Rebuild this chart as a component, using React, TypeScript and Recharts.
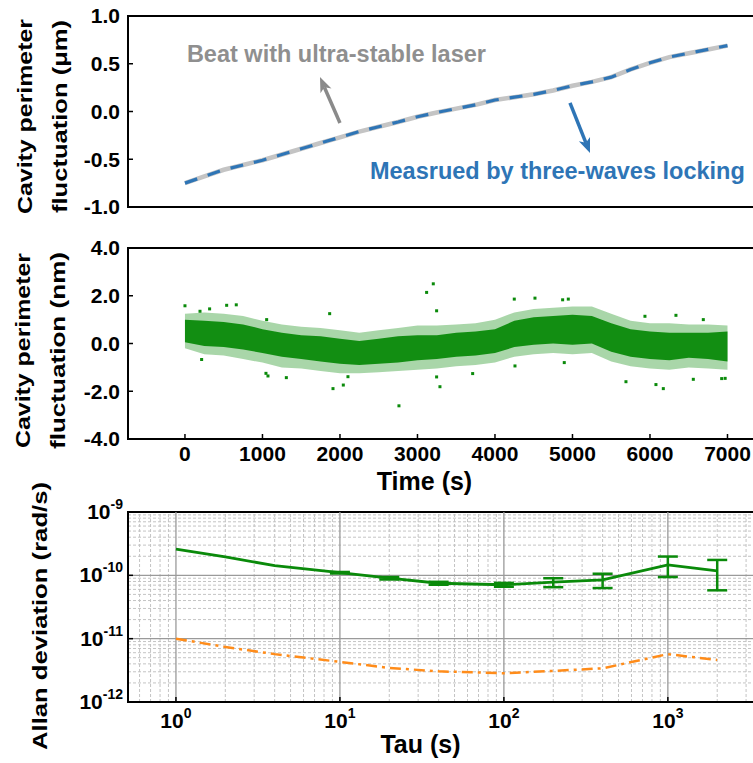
import React from 'react';
import {
  LineChart, ComposedChart, Line, Area, Scatter, XAxis, YAxis, Label,
  ReferenceArea, ReferenceLine, ReferenceDot, ErrorBar,
} from 'recharts';

const FONT = '"Liberation Sans", Arial, Helvetica, sans-serif';
const GREEN = '#0a8a0a';
const BLUE = '#2e75b6';
const GRAY_LINE = '#c4c4c4';
const GRAY_TEXT = '#8f8f8f';
const ORANGE = '#ff8c1a';

// ---------- Panel 1: cavity perimeter drift (µm) ----------
const driftTime = [0, 250, 500, 750, 1000, 1250, 1500, 1750, 2000, 2250, 2500, 2750, 3000, 3250, 3500, 3750, 4000, 4250, 4500, 4750, 5000, 5250, 5500, 5750, 6000, 6250, 6500, 6750, 7000];
const driftUm = [-0.75, -0.68, -0.61, -0.56, -0.51, -0.45, -0.39, -0.33, -0.27, -0.21, -0.16, -0.11, -0.055, -0.01, 0.03, 0.07, 0.12, 0.15, 0.18, 0.22, 0.27, 0.31, 0.36, 0.44, 0.51, 0.57, 0.61, 0.65, 0.69];
const timeTicks = [0, 1000, 2000, 3000, 4000, 5000, 6000, 7000];
const timeDomain = [-735, 7355];
const driftTicks = [-1, -0.5, 0, 0.5, 1];

// ---------- Panel 2: residual fluctuation (nm) ----------
const noiseTime = [0, 250, 500, 750, 1000, 1250, 1500, 1750, 2000, 2250, 2500, 2750, 3000, 3250, 3500, 3750, 4000, 4250, 4500, 4750, 5000, 5250, 5500, 5750, 6000, 6250, 6500, 6750, 7000];
const coreLow = [0.05, -0.1, -0.15, -0.25, -0.4, -0.55, -0.65, -0.75, -0.85, -0.9, -0.85, -0.8, -0.7, -0.65, -0.55, -0.5, -0.4, -0.15, -0.05, 0.0, -0.05, 0.0, -0.35, -0.55, -0.65, -0.7, -0.6, -0.65, -0.75];
const coreHigh = [1.0, 0.95, 0.9, 0.8, 0.6, 0.45, 0.35, 0.3, 0.2, 0.1, 0.2, 0.3, 0.35, 0.35, 0.45, 0.5, 0.6, 0.95, 1.1, 1.15, 1.2, 1.15, 0.85, 0.6, 0.5, 0.45, 0.45, 0.45, 0.5];
const outerLow = [-0.2, -0.45, -0.5, -0.65, -0.8, -1.0, -1.05, -1.15, -1.25, -1.25, -1.2, -1.15, -1.1, -1.05, -0.95, -0.9, -0.8, -0.55, -0.45, -0.4, -0.45, -0.4, -0.75, -0.95, -1.05, -1.1, -1.0, -1.05, -1.1];
const outerHigh = [1.25, 1.3, 1.25, 1.15, 0.95, 0.8, 0.7, 0.65, 0.55, 0.45, 0.55, 0.65, 0.75, 0.75, 0.8, 0.85, 1.0, 1.3, 1.45, 1.5, 1.55, 1.55, 1.25, 0.95, 0.85, 0.85, 0.8, 0.8, 0.75];
const outlierTime = [0, 194, 318, 538, 662, 215, 1045, 1054, 1071, 1308, 1867, 1910, 2043, 2103, 2761, 3118, 3204, 3247, 3290, 3247, 3712, 4249, 4258, 4516, 4873, 4946, 4894, 5690, 5935, 6077, 6172, 6335, 6559, 6688, 6925, 6970];
const outlierNm = [1.58, 1.35, 1.45, 1.6, 1.62, -0.67, -1.25, 1.0, -1.36, -1.43, 1.25, -1.89, -1.74, -1.39, -2.61, 2.14, 2.5, 1.37, -1.81, -1.4, -1.26, 1.86, -0.94, 1.9, 1.83, 1.86, -0.8, -1.6, 1.14, -1.72, -1.89, 1.18, -1.5, 1.0, -1.47, -1.46];
const noiseTicks = [-4, -2, 0, 2, 4];

// ---------- Panel 3: Allan deviation ----------
const tau = [1, 2, 4, 10, 20, 40, 100, 200, 400, 1000, 2000];
const adevMeasured = [2.6e-10, 1.95e-10, 1.42e-10, 1.1e-10, 9.0e-11, 7.5e-11, 7.1e-11, 7.8e-11, 8.5e-11, 1.46e-10, 1.18e-10];
const adevErrLow = [null, null, null, 3e-12, 4e-12, 4e-12, 5e-12, 1.3e-11, 2.2e-11, 5.2e-11, 6.0e-11];
const adevErrHigh = [null, null, null, 3e-12, 4e-12, 4e-12, 5e-12, 1.2e-11, 2.1e-11, 5.2e-11, 5.7e-11];
const adevFloor = [1.0e-11, 7.4e-12, 5.7e-12, 4.3e-12, 3.45e-12, 3.05e-12, 2.84e-12, 3.1e-12, 3.4e-12, 5.7e-12, 4.6e-12];
const tauTicks = [1, 10, 100, 1000];
const tauDomain = [0.51, 3400];
const adevTicks = [1e-12, 1e-11, 1e-10, 1e-9];

const minorTau: number[] = [];
[0.1, 1, 10, 100, 1000].forEach((d) => {
  for (let m = 2; m <= 9; m++) {
    const v = m * d;
    if (v > tauDomain[0] && v < tauDomain[1]) minorTau.push(v);
  }
});
const minorAdev: number[] = [];
[1e-12, 1e-11, 1e-10].forEach((d) => {
  for (let m = 2; m <= 9; m++) minorAdev.push(m * d);
});

const driftData = driftTime.map((t, i) => ({ t, um: driftUm[i] }));
const noiseData = noiseTime.map((t, i) => ({ t, core: [coreLow[i], coreHigh[i]], outer: [outerLow[i], outerHigh[i]] }));
const outlierData = outlierTime.map((t, i) => ({ t, v: outlierNm[i] }));
const allanData = tau.map((x, i) => ({
  tau: x,
  adev: adevMeasured[i],
  adevErr: adevErrLow[i] == null ? undefined : [adevErrLow[i], adevErrHigh[i]],
  floor: adevFloor[i],
}));

const tickFont = { fontSize: 21, fontWeight: 700, fill: '#000', fontFamily: FONT };
const axisLineStyle = { stroke: '#000', strokeWidth: 2 };
const tickLineStyle = { stroke: '#000', strokeWidth: 1.5 };

const YTitle = (lines: string[], bx: number[], dy: number, len: number[]) => (p: any) => {
  const vb = p.viewBox;
  const cy = vb.y + vb.height / 2 + dy;
  return (
    <g>
      {lines.map((s, i) => (
        <text
          key={i}
          transform={`translate(${bx[i]},${cy}) rotate(-90)`}
          textAnchor="middle"
          fontFamily={FONT}
          fontWeight={700}
          fontSize={21}
          fill="#000"
          textLength={len[i]}
          lengthAdjust="spacingAndGlyphs"
        >
          {s}
        </text>
      ))}
    </g>
  );
};

const XTitle = (text: string, dx: number, dy: number) => (p: any) => {
  const vb = p.viewBox;
  return (
    <text x={vb.x + vb.width / 2 + dx} y={vb.y + dy} textAnchor="middle" fontFamily={FONT} fontWeight={700} fontSize={25} fill="#000">
      {text}
    </text>
  );
};

const XPowTick = (p: any) => {
  const exp = Math.round(Math.log10(p.payload.value));
  return (
    <text x={p.x} y={p.y} dy={19} textAnchor="middle" fontFamily={FONT} fontWeight={700} fontSize={21} fill="#000">
      <tspan>10</tspan>
      <tspan dy={-10} fontSize={14}>{exp}</tspan>
    </text>
  );
};

const YPowTick = (p: any) => {
  const exp = Math.round(Math.log10(p.payload.value));
  return (
    <text x={p.x} y={p.y} dy={7} textAnchor="end" fontFamily={FONT} fontWeight={700} fontSize={21} fill="#000">
      <tspan>10</tspan>
      <tspan dy={-10} fontSize={14}>{exp}</tspan>
    </text>
  );
};

const arrowShape = (color: string) => (p: any) => {
  const { x1, y1, x2, y2 } = p;
  const ang = Math.atan2(y2 - y1, x2 - x1);
  const L = 15;
  const W = 6;
  const bx = x2 - L * Math.cos(ang);
  const by = y2 - L * Math.sin(ang);
  const nx = x2 - (L - 4) * Math.cos(ang);
  const ny = y2 - (L - 4) * Math.sin(ang);
  const px = -Math.sin(ang) * W;
  const py = Math.cos(ang) * W;
  return (
    <g>
      <line x1={x1} y1={y1} x2={nx} y2={ny} stroke={color} strokeWidth={3.5} />
      <polygon points={`${x2},${y2} ${bx + px},${by + py} ${nx},${ny} ${bx - px},${by - py}`} fill={color} />
    </g>
  );
};

const textShape = (text: string, color: string) => (p: any) => (
  <text x={p.cx} y={p.cy} fontFamily={FONT} fontWeight={700} fontSize={23.5} fill={color}>
    {text}
  </text>
);

const Square = (p: any) => <rect x={p.cx - 1.5} y={p.cy - 1.5} width={3} height={3} fill={GREEN} />;
const NoTick = () => <g />;

export default function App() {
  return (
    <div style={{ position: 'absolute', left: 0, top: 0, width: 753, height: 763, overflow: 'hidden', background: '#fff', fontFamily: FONT }}>
      {/* Panel 1 */}
      <div style={{ position: 'absolute', left: 0, top: 0 }}>
        <LineChart width={760} height={227} data={driftData} margin={{ top: 16, right: 5, bottom: 12, left: 68 }}>
          <XAxis xAxisId="b" dataKey="t" type="number" domain={timeDomain} allowDataOverflow ticks={timeTicks} interval={0}
            tickSize={-5} tick={false} height={8} axisLine={axisLineStyle} tickLine={tickLineStyle} />
          <XAxis xAxisId="t" orientation="top" dataKey="t" type="number" domain={timeDomain} allowDataOverflow ticks={timeTicks} interval={0}
            tickSize={-5} tick={<NoTick />} height={0} axisLine={false} tickLine={tickLineStyle} />
          <YAxis type="number" domain={[-1, 1]} allowDataOverflow ticks={driftTicks} interval={0} tickSize={-5} tickMargin={13} width={60}
            tickFormatter={(v: number) => v.toFixed(1)} tick={tickFont} axisLine={axisLineStyle} tickLine={tickLineStyle}
            label={<Label content={YTitle(['Cavity perimeter', 'fluctuation (μm)'], [32, 67], 5, [195, 193])} />} />
          <ReferenceArea xAxisId="b" x1={timeDomain[0]} x2={timeDomain[1]} y1={-1} y2={1} fill="none" fillOpacity={0} stroke="#000" strokeWidth={2} />
          <Line xAxisId="t" dataKey="um" stroke={GRAY_LINE} strokeWidth={4.5} dot={false} isAnimationActive={false} />
          <Line xAxisId="b" dataKey="um" stroke={BLUE} strokeWidth={3.2} strokeDasharray="13 11" dot={false} isAnimationActive={false} />
          <ReferenceLine xAxisId="b" segment={[{ x: 2000, y: -0.12 }, { x: 1742, y: 0.36 }]} shape={arrowShape('#8a8a8a')} />
          <ReferenceLine xAxisId="b" segment={[{ x: 4968, y: 0.09 }, { x: 5226, y: -0.435 }]} shape={arrowShape(BLUE)} />
          <ReferenceDot xAxisId="b" x={25} y={0.518} r={1} shape={textShape('Beat with ultra-stable laser', GRAY_TEXT)} />
          <ReferenceDot xAxisId="b" x={2387} y={-0.707} r={1} shape={textShape('Measrued by three-waves locking', BLUE)} />
        </LineChart>
      </div>

      {/* Panel 2 */}
      <div style={{ position: 'absolute', left: 0, top: 220 }}>
        <ComposedChart width={760} height={275} data={noiseData} margin={{ top: 28, right: 5, bottom: 0, left: 68 }}>
          <XAxis xAxisId="b" dataKey="t" type="number" domain={timeDomain} allowDataOverflow ticks={timeTicks} interval={0}
            tickSize={-5} tickMargin={12} height={56} tick={tickFont} axisLine={axisLineStyle} tickLine={tickLineStyle}
            label={<Label content={XTitle('Time (s)', -17, 51)} />} />
          <XAxis xAxisId="t" orientation="top" dataKey="t" type="number" domain={timeDomain} allowDataOverflow ticks={timeTicks} interval={0}
            tickSize={-5} tick={<NoTick />} height={0} axisLine={false} tickLine={tickLineStyle} />
          <YAxis dataKey="v" type="number" domain={[-4, 4]} allowDataOverflow ticks={noiseTicks} interval={0} tickSize={-5} tickMargin={13} width={60}
            tickFormatter={(v: number) => v.toFixed(1)} tick={tickFont} axisLine={axisLineStyle} tickLine={tickLineStyle}
            label={<Label content={YTitle(['Cavity perimeter', 'fluctuation (nm)'], [30, 65], 7, [195, 197])} />} />
          <ReferenceArea xAxisId="b" x1={timeDomain[0]} x2={timeDomain[1]} y1={-4} y2={4} fill="none" fillOpacity={0} stroke="#000" strokeWidth={2} />
          <Area xAxisId="b" dataKey="outer" type="linear" stroke="none" fill={GREEN} fillOpacity={0.35} isAnimationActive={false} />
          <Area xAxisId="b" dataKey="core" type="linear" stroke="none" fill={GREEN} fillOpacity={0.95} isAnimationActive={false} />
          <Scatter xAxisId="t" data={outlierData} dataKey="v" shape={<Square />} isAnimationActive={false} />
        </ComposedChart>
      </div>

      {/* Panel 3 */}
      <div style={{ position: 'absolute', left: 0, top: 470 }}>
        <LineChart width={760} height={293} data={allanData} margin={{ top: 42, right: 5, bottom: 0, left: 68 }}>
          <XAxis xAxisId="b" dataKey="tau" type="number" scale="log" domain={tauDomain} allowDataOverflow ticks={tauTicks} interval={0}
            tickSize={-5} tickMargin={12} height={61} tick={<XPowTick />} axisLine={axisLineStyle} tickLine={tickLineStyle}
            label={<Label content={XTitle('Tau (s)', -21, 51)} />} />
          <XAxis xAxisId="t" orientation="top" dataKey="tau" type="number" scale="log" domain={tauDomain} allowDataOverflow interval={0}
            ticks={[...minorTau, ...tauTicks]} tickSize={-4} tick={<NoTick />} height={0} axisLine={false} tickLine={tickLineStyle} />
          <YAxis type="number" scale="log" domain={[1e-12, 1e-9]} allowDataOverflow ticks={adevTicks} interval={0} tickSize={-5} tickMargin={10} width={60}
            tick={<YPowTick />} axisLine={axisLineStyle} tickLine={tickLineStyle}
            label={<Label content={YTitle(['Allan deviation (rad/s)'], [47], 9, [268])} />} />
          {minorTau.map((v) => (
            <ReferenceLine key={`mx${v}`} xAxisId="b" x={v} stroke="#c4c4c4" strokeWidth={1} strokeDasharray="3 2" />
          ))}
          {minorAdev.map((v) => (
            <ReferenceLine key={`my${v}`} xAxisId="b" y={v} stroke="#c4c4c4" strokeWidth={1} strokeDasharray="3 2" />
          ))}
          {tauTicks.map((v) => (
            <ReferenceLine key={`Mx${v}`} xAxisId="b" x={v} stroke="#9a9a9a" strokeWidth={1.3} />
          ))}
          {adevTicks.slice(1, 3).map((v) => (
            <ReferenceLine key={`My${v}`} xAxisId="b" y={v} stroke="#9a9a9a" strokeWidth={1.3} />
          ))}
          <ReferenceArea xAxisId="b" x1={tauDomain[0]} x2={tauDomain[1]} y1={1e-12} y2={1e-9} fill="none" fillOpacity={0} stroke="#000" strokeWidth={2} />
          <Line xAxisId="t" dataKey="floor" stroke={ORANGE} strokeWidth={2.5} strokeDasharray="11 5 3 5" dot={false} isAnimationActive={false} />
          <Line xAxisId="b" dataKey="adev" stroke={GREEN} strokeWidth={2.8} dot={false} isAnimationActive={false}>
            <ErrorBar dataKey="adevErr" width={10} strokeWidth={2.5} stroke={GREEN} direction="y" />
          </Line>
        </LineChart>
      </div>
    </div>
  );
}
